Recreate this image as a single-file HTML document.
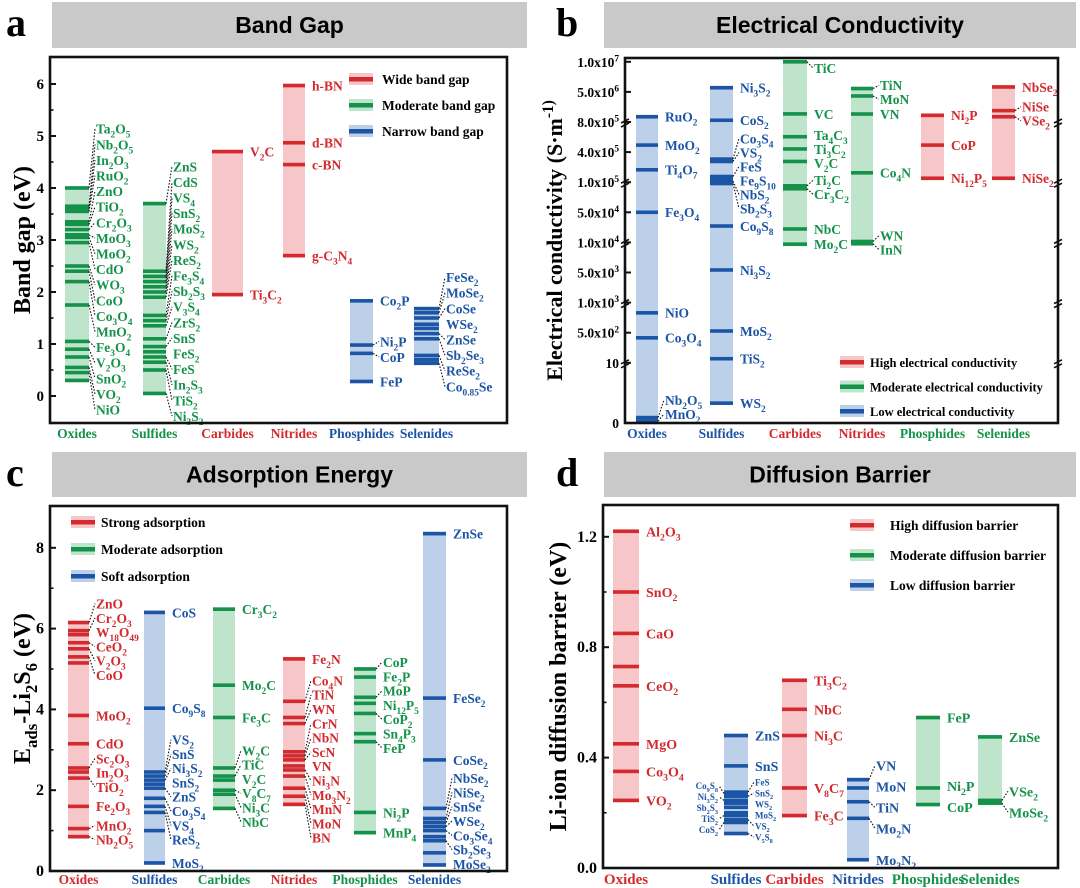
<!DOCTYPE html>
<html><head><meta charset="utf-8"><style>
html,body{margin:0;padding:0;background:#fff;}
svg{display:block;font-family:"Liberation Serif",serif;}
</style></head><body>
<svg id="fig" width="1080" height="888" viewBox="0 0 1080 888" xmlns="http://www.w3.org/2000/svg"></svg>
<script>
// ---------- DATA ----------
const bandCats = ["Oxides","Sulfides","Carbides","Nitrides","Phosphides","Selenides"];
const bandVals = [
 [4.0,3.65,3.6,3.55,3.35,3.3,3.2,3.1,3.05,2.95,2.5,2.4,2.2,1.75,1.05,0.9,0.75,0.55,0.45,0.3],
 [3.7,2.4,2.3,2.2,2.1,2.0,1.9,1.55,1.45,1.35,1.1,0.95,0.85,0.75,0.65,0.5,0.05],
 [4.7,1.95],
 [5.97,4.87,4.45,2.7],
 [1.83,0.98,0.82,0.28],
 [1.68,1.6,1.5,1.38,1.3,1.2,1.1,0.78,0.7,0.63]];
const bandLabels = [
 ["Ta2O5","Nb2O5","In2O3","RuO2","ZnO","TiO2","Cr2O3","MoO3","MoO2","CdO","WO3","CoO","Co3O4","MnO2","Fe3O4","V2O3","SnO2","VO2","NiO",""],
 ["ZnS","CdS","VS4","SnS2","MoS2","WS2","ReS2","Fe3S4","Sb2S3","V3S4","ZrS2","SnS","FeS2","FeS","In2S3","TiS2","Ni3S2"],
 ["V2C","Ti3C2"],["h-BN","d-BN","c-BN","g-C3N4"],["Co2P","Ni2P","CoP","FeP"],
 ["FeSe2","MoSe2","CoSe","WSe2","","ZnSe","Sb2Se3","ReSe2","","Co0.85Se"]];

const condCats = ["Oxides","Sulfides","Carbides","Nitrides","Phosphides","Selenides"];
const condTicks = [0,10,500,1000,5000,1e4,5e4,1e5,4e5,8e5,5e6,1e7];
const condTickLabels = ["0","10","5.0x10^2","1.0x10^3","5.0x10^3","1.0x10^4","5.0x10^4","1.0x10^5","4.0x10^5","8.0x10^5","5.0x10^6","1.0x10^7"];
const condVals = [
 [1.1e6,4.7e5,1.77e5,5e4,790,257,0.9,0.3],
 [5.5e6,8.9e5,2.9e5,2.6e5,1.3e5,1.15e5,1.05e5,0.97e5,2.4e4,5.3e3,520,17,3.3],
 [1e7,1.31e6,5.7e5,4.3e5,2.6e5,9.2e4,8.6e4,2.05e4,9.6e3],
 [5.4e6,3.9e6,1.3e6,1.54e5,1.05e4,9.7e3],
 [1.2e6,4.7e5,1.2e5],
 [5.6e6,1.6e6,1.1e6,1.2e5]];
const condLabels = [
 ["RuO2","MoO2","Ti4O7","Fe3O4","NiO","Co3O4","Nb2O5","MnO2"],
 ["Ni3S2","CoS2","Co3S4","VS2","FeS","Fe9S10","NbS2","Sb2S3","Co9S8","Ni3S2","MoS2","TiS2","WS2"],
 ["TiC","VC","Ta4C3","Ti3C2","V2C","Ti2C","Cr3C2","NbC","Mo2C"],
 ["TiN","MoN","VN","Co4N","WN","InN"],
 ["Ni2P","CoP","Ni12P5"],
 ["NbSe2","NiSe","VSe2","NiSe2"]];

const adsCats = ["Oxides","Sulfides","Carbides","Nitrides","Phosphides","Selenides"];
const adsVals = [
 [6.15,5.95,5.85,5.65,5.5,5.3,5.15,3.85,3.15,2.55,2.45,2.3,1.6,1.05,0.85],
 [6.4,4.03,2.45,2.35,2.25,2.15,2.05,1.8,1.6,1.45,1.0,0.2],
 [6.48,4.6,3.8,2.55,2.35,2.25,2.0,1.9,1.55],
 [5.25,4.2,3.8,3.65,2.95,2.85,2.75,2.6,2.5,2.35,2.05,1.85,1.65],
 [5.0,4.8,4.3,4.15,3.9,3.4,3.2,1.45,0.95],
 [8.35,4.28,2.75,1.55,1.3,1.2,1.1,1.0,0.85,0.75,0.45,0.15]];
const adsLabels = [
 ["ZnO","Cr2O3","W18O49","CeO2","V2O3","CoO","","MoO2","CdO","Sc2O3","In2O3","TiO2","Fe2O3","MnO2","Nb2O5"],
 ["CoS","Co9S8","VS2","SnS","Ni3S2","SnS2","ZnS","Co3S4","VS4","ReS2","","MoS2"],
 ["Cr3C2","Mo2C","Fe3C","W2C","TiC","V2C","V8C7","Ni3C","NbC"],
 ["Fe2N","Co4N","TiN","WN","CrN","NbN","ScN","VN","Ni3N","Mo3N2","MnN","MoN","BN"],
 ["CoP","Fe2P","MoP","Ni12P5","CoP2","Sn4P3","FeP","Ni2P","MnP4"],
 ["ZnSe","FeSe2","CoSe2","NbSe2","NiSe2","SnSe","WSe2","Co3Se4","","Sb2Se3","","MoSe2"]];

const diffCats = ["Oxides","Sulfides","Carbides","Nitrides","Phosphides","Selenides"];
const diffVals = [
 [1.22,1.0,0.85,0.73,0.66,0.45,0.35,0.245],
 [0.48,0.37,0.275,0.27,0.26,0.245,0.235,0.22,0.2,0.19,0.175,0.165,0.125],
 [0.68,0.575,0.48,0.29,0.19],
 [0.32,0.29,0.24,0.18,0.03],
 [0.545,0.29,0.23],
 [0.475,0.245,0.235]];
const diffLabels = [
 ["Al2O3","SnO2","CaO","","CeO2","MgO","Co3O4","VO2"],
 ["ZnS","SnS","*FeS","<Co9S8","*SnS2","<Ni3S2","*WS2","<Sb2S3","*MoS2","<TiS2","*VS2","<CoS2","*V5S8"],
 ["Ti3C2","NbC","Ni3C","V8C7","Fe3C"],
 ["VN","MoN","TiN","Mo2N","Mo3N2"],
 ["FeP","Ni2P","CoP"],
 ["ZnSe","VSe2","MoSe2"]];

// ---------- STYLE ----------
const DARK={r:"#d22a2e",g:"#14924a",b:"#1c55a5"};
const LIGHT={r:"#f7c6c8",g:"#bfe4cc",b:"#bcd0ea"};
const NS="http://www.w3.org/2000/svg";
const svg=document.getElementById("fig");
function el(tag,attrs,parent){const e=document.createElementNS(NS,tag);for(const k in attrs)e.setAttribute(k,attrs[k]);(parent||svg).appendChild(e);return e;}
function subText(t,str,size){
  let parts=[];
  if(str.indexOf("^")>=0){const [a,b]=str.split("^");parts=[[a,0],[b,2]];}
  else if(str.indexOf("_")>=0){str.split("|").forEach(s=>{if(s[0]==="_")parts.push([s.slice(1),1]);else parts.push([s,0]);});}
  else{let cur="",mode=0;
    for(let c=0;c<str.length;c++){const ch=str[c];
      const isSub=/[0-9.]/.test(ch)&&c>0&&(mode===1||/[A-Za-z)]/.test(str[c-1]));
      const m=isSub?1:0;
      if(m!==mode&&cur){parts.push([cur,mode]);cur="";}
      mode=m;cur+=ch;}
    if(cur)parts.push([cur,mode]);}
  let shift=0;
  parts.forEach(([s,m])=>{const ts=el("tspan",{},t);ts.textContent=s;
    let target=m===1?size*0.3:(m===2?-size*0.4:0);
    ts.setAttribute("dy",(target-shift).toFixed(1));shift=target;
    if(m)ts.setAttribute("font-size",(size*0.7).toFixed(1));});
}
function txt(x,y,str,o){const t=el("text",{x:x,y:y,"font-size":o.size,fill:o.fill||"#000","font-weight":"bold","text-anchor":o.anchor||"start","font-family":o.family||'"Liberation Serif",serif'},o.parent);
  if(o.rot)t.setAttribute("transform",`rotate(-90 ${x} ${y})`);
  subText(t,str,o.size);return t;}

function header(x0,x1,y0,y1,title,letter,lx,ly,name){
  const g=el("g",{});
  el("rect",{x:x0,y:y0,width:x1-x0,height:y1-y0,fill:"#c9c9c9"},g);
  txt((x0+x1)/2,(y0+y1)/2+8,title,{size:23,anchor:"middle",family:'"Liberation Sans",sans-serif',parent:g,name:name+"-title"});
  txt(lx,ly,letter,{size:40,parent:g,name:name+"-panel-letter"});
}

function placeLabels(items,gap,minY,maxY){
  items.sort((a,b)=>a.y0-b.y0);
  let cl=[];
  const fit=c=>{let s=0;c.items.forEach((it,k)=>s+=it.y0-k*gap);let top=s/c.items.length;
    top=Math.max(minY,Math.min(top,maxY-(c.items.length-1)*gap));c.top=top;};
  items.forEach(it=>{const c={items:[it]};fit(c);cl.push(c);
    while(cl.length>1){const a=cl[cl.length-2],b=cl[cl.length-1];
      if(a.top+a.items.length*gap>b.top){a.items=a.items.concat(b.items);cl.pop();fit(a);}else break;}});
  cl.forEach(c=>c.items.forEach((it,k)=>it.y=c.top+k*gap));
}

function panel(p){
  const g=el("g",{});
  p.vals.forEach((vals,i)=>{
    const [x0,x1]=p.cols[i];const c=p.colors[i];
    const cg=el("g",{},g);
    const ymax=p.y(Math.max(...vals)),ymin=p.y(Math.min(...vals));
    el("rect",{x:x0,y:ymax-2,width:x1-x0,height:ymin-ymax+4,fill:LIGHT[c]},cg);
    vals.forEach(v=>{const r=el("rect",{x:x0,y:p.y(v)-1.8,width:x1-x0,height:3.6,fill:DARK[c]},cg);
      });
    const labs=p.labels[i];
    ["r","s","l"].forEach(side=>{
      const items=[];
      labs.forEach((L,k)=>{if(!L)return;
        const sd=L[0]==="<"?"l":(L[0]==="*"?"s":"r");if(sd!==side)return;
        items.push({txt:sd==="r"?L:L.slice(1),y0:p.y(vals[k])});});
      if(!items.length)return;
      const small=side!=="r";
      const gap=small?11:p.gap;
      placeLabels(items,gap,p.fy0+10,p.fy1-(p.botPad||7));
      const fs=small?9:p.fs;
      const right=side!=="l";
      items.forEach(it=>{
        const lx=right?x1+7:x0-6;
        if(Math.abs(it.y-it.y0)>2.5){
          const ln=el("line",{x1:right?x1:x0,y1:it.y0,x2:right?lx-1:lx+1,y2:it.y,stroke:"#111","stroke-width":1.1,"stroke-dasharray":"1.6,1.6"},cg);
          }
        txt(lx,it.y+fs*0.36,it.txt,{size:fs,fill:DARK[c],anchor:right?"start":"end",parent:cg,name:"material-label"});
      });
    });
    txt((x0+x1)/2,p.catY,p.cats[i],{size:p.catSize||13.5,fill:DARK[p.catColors[i]],anchor:"middle",parent:g,name:"category-label"});
  });
  const f=el("rect",{x:p.fx0,y:p.fy0,width:p.fx1-p.fx0,height:p.fy1-p.fy0,fill:"none",stroke:"#111","stroke-width":2.6},g);
  
  p.ticks.forEach((tv,k)=>{const y=p.y(tv);
    el("line",{x1:p.fx0,y1:y,x2:p.fx0+6,y2:y,stroke:"#111","stroke-width":2},g);
    txt(p.fx0-6,y+5,p.tickLabels[k],{size:p.tickSize,anchor:"end",parent:g,name:"y-tick-label"});});
  (p.minor||[]).forEach(tv=>{const y=p.y(tv);el("line",{x1:p.fx0,y1:y,x2:p.fx0+3.5,y2:y,stroke:"#111","stroke-width":1.6},g);});
  txt(p.titleX,(p.fy0+p.fy1)/2,p.ytitle,{size:p.titleSize,anchor:"middle",rot:true,parent:g,name:"y-axis-title"});
  p.legend.forEach((L,k)=>{const lg=el("g",{},g);
    const y=p.legY+k*p.legGap;
    el("rect",{x:p.legX,y:y-6,width:24,height:12,fill:LIGHT[L[1]]},lg);
    el("rect",{x:p.legX,y:y-2,width:24,height:4.5,fill:DARK[L[1]]},lg);
    txt(p.legX+(p.legTx||32),y+5,L[0],{size:p.legSize||13.5,parent:lg,name:"legend-text"});});
}

header(52,527,2,48,"Band Gap","a",6,36,"band-gap");
header(604,1076,2,48,"Electrical Conductivity","b",556,36,"conductivity");
header(52,527,452,497,"Adsorption Energy","c",6,486,"adsorption");
header(604,1076,452,497,"Diffusion Barrier","d",556,486,"diffusion");

panel({name:"band-gap-chart",cats:bandCats,vals:bandVals,labels:bandLabels,
 colors:["g","g","r","r","b","b"],catColors:["g","g","r","r","b","b"],
 cols:[[65,89],[143,166],[212,243],[283,305],[350,373],[414,439]],
 y:v=>396-52*v,fx0:50,fx1:507,fy0:57,fy1:423,catY:438,gap:15.6,fs:13.5,
 ticks:[0,1,2,3,4,5,6],tickLabels:["0","1","2","3","4","5","6"],minor:[0.5,1.5,2.5,3.5,4.5,5.5],tickSize:15,
 ytitle:"Band gap (eV)",titleX:30,titleSize:24,
 legend:[["Wide band gap","r"],["Moderate band gap","g"],["Narrow band gap","b"]],legX:349,legY:79,legGap:26,legTx:33});

function condIdx(v){
  for(let k=1;k<condTicks.length;k++){if(v<=condTicks[k]){
    if(k===1)return 2*v/condTicks[1];
    const a=condTicks[k-1],b=condTicks[k];return k+(Math.log(v/a)/Math.log(b/a));}}
  return condTicks.length;}
const condY=v=>423-30.1*condIdx(v);
panel({name:"conductivity-chart",cats:condCats,vals:condVals,labels:condLabels,
 colors:["b","b","g","g","r","r"],catColors:["b","b","r","r","g","g"],
 cols:[[636,658],[710,733],[783,807],[851,873],[921,944],[992,1015]],
 y:condY,fx0:625,fx1:1058,fy0:58,fy1:423,catY:438,gap:14,fs:13.5,botPad:9,
 ticks:condTicks,tickLabels:condTickLabels,tickSize:13.5,
 ytitle:"Electrical conductivity (S·m^-1)",titleX:562,titleSize:22,
 legend:[["High electrical conductivity","r"],["Moderate electrical conductivity","g"],["Low electrical conductivity","b"]],legX:840,legY:362,legGap:24.5,legTx:30,legSize:12.5});
[10,1000,1e4,1e5,8e5].forEach(v=>{const y=condY(v);
 [625,1058].forEach(x=>{const b=el("path",{d:`M${x-4} ${y+1} l8 -4 M${x-4} ${y+5} l8 -4`,stroke:"#111","stroke-width":1.6,fill:"none"});
  });});

panel({name:"adsorption-chart",cats:adsCats,vals:adsVals,labels:adsLabels,
 colors:["r","b","g","r","g","b"],catColors:["r","b","g","r","g","b"],
 cols:[[68,89],[144,165],[213,235],[283,305],[354,376],[423,446]],
 y:v=>871-40.4*v,fx0:50,fx1:507,fy0:506,fy1:871,catY:884,gap:14.3,fs:13.5,
 ticks:[0,2,4,6,8],tickLabels:["0","2","4","6","8"],minor:[1,3,5,7],tickSize:16,
 ytitle:"E|_ads|-Li|_2|S|_6| (eV)",titleX:30,titleSize:24,
 legend:[["Strong adsorption","r"],["Moderate adsorption","g"],["Soft adsorption","b"]],legX:71,legY:522,legGap:27,legTx:30});

panel({name:"diffusion-chart",cats:diffCats,vals:diffVals,labels:diffLabels,
 colors:["r","b","r","b","g","g"],catColors:["r","b","r","b","g","g"],
 cols:[[613,639],[724,748],[782,807],[847,869],[916,940],[978,1002]],
 y:v=>868-276*v,fx0:603,fx1:1058,fy0:505,fy1:868,catY:884,gap:21,fs:14,catSize:15,
 ticks:[0,0.4,0.8,1.2],tickLabels:["0.0","0.4","0.8","1.2"],minor:[0.2,0.6,1.0],tickSize:16,
 ytitle:"Li-ion diffusion barrier (eV)",titleX:566,titleSize:24,
 legend:[["High diffusion barrier","r"],["Moderate diffusion barrier","g"],["Low diffusion barrier","b"]],legX:850,legY:525,legGap:30,legTx:40});
</script>
</body></html>
